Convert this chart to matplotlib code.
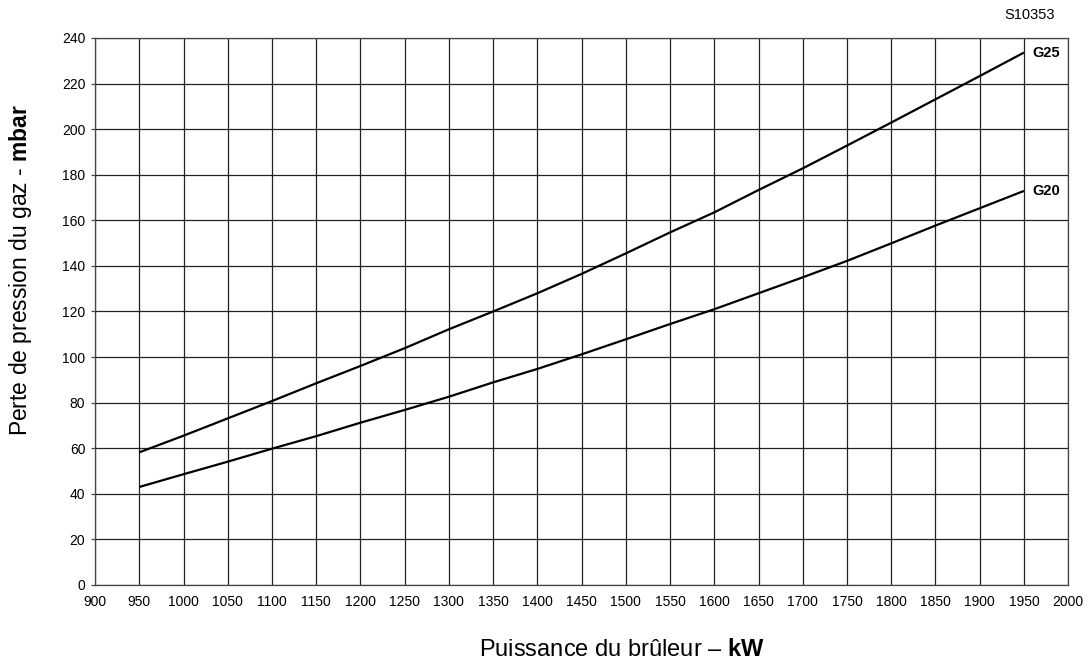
#!/usr/bin/env python3
# -*- coding: utf-8 -*-
import matplotlib
matplotlib.use('Agg')
from matplotlib import rcParams, pyplot as plt

rcParams['font.family'] = ['Liberation Sans', 'DejaVu Sans']
rcParams['mathtext.fontset'] = 'custom'
rcParams['mathtext.rm'] = 'Liberation Sans'
rcParams['mathtext.bf'] = 'Liberation Sans:bold'

power = [950, 1000, 1050, 1100, 1150, 1200, 1250, 1300, 1350, 1400, 1450,
	1500, 1550, 1600, 1650, 1700, 1750, 1800, 1850, 1900, 1950]
g25 = [58.2, 65.5, 73.1, 80.7, 88.5, 96.1, 103.9, 112.2, 120.0, 128.0, 136.5,
	145.5, 154.7, 163.5, 173.3, 182.8, 192.8, 202.9, 213.1, 223.3, 233.6]
g20 = [43.0, 48.6, 54.1, 59.8, 65.3, 71.2, 76.8, 82.6, 88.9, 94.8, 101.2,
	107.8, 114.5, 121.0, 128.0, 135.0, 142.2, 149.9, 157.7, 165.3, 172.9]
xticks = list(range(900, 2001, 50))
yticks = list(range(0, 241, 20))

def main():
	fig = plt.figure(figsize=(10.9, 6.64), dpi=100)
	ax = fig.add_axes([0.0872, 0.119, 0.8928, 0.8238])
	ax.plot(power, g25, color='black', lw=1.6, solid_capstyle='butt')
	ax.plot(power, g20, color='black', lw=1.6, solid_capstyle='butt')
	ax.text(1959, g25[-1], 'G25', fontsize=10.5, fontweight='bold', va='center', ha='left')
	ax.text(1959, g20[-1], 'G20', fontsize=10.5, fontweight='bold', va='center', ha='left')

	ax.set_xlim(900, 2000)
	ax.set_ylim(0, 240)
	ax.set_xticks(xticks)
	ax.set_yticks(yticks)
	ax.grid(True, color='#222222', lw=0.9)
	ax.set_axisbelow(True)
	for s in ax.spines.values():
		s.set_color('#444444')
		s.set_linewidth(0.9)
	ax.tick_params(axis='y', length=3, width=0.9, color='#444444', labelsize=10, pad=4)
	ax.tick_params(axis='x', length=0, labelsize=10, pad=7)

	ax.set_xlabel('Puissance du brûleur – $\\mathbf{kW}$', fontsize=17, labelpad=20)
	ax.xaxis.set_label_coords(0.541, -0.098)
	ax.set_ylabel('Perte de pression du gaz - $\\mathbf{mbar}$', fontsize=16.5)
	ax.yaxis.set_label_coords(-0.063, 0.576)
	fig.text(0.968, 0.977, 'S10353', fontsize=10.5, ha='right', va='center')

	fig.savefig('out.png', dpi=100)

if __name__ == '__main__':
	main()
